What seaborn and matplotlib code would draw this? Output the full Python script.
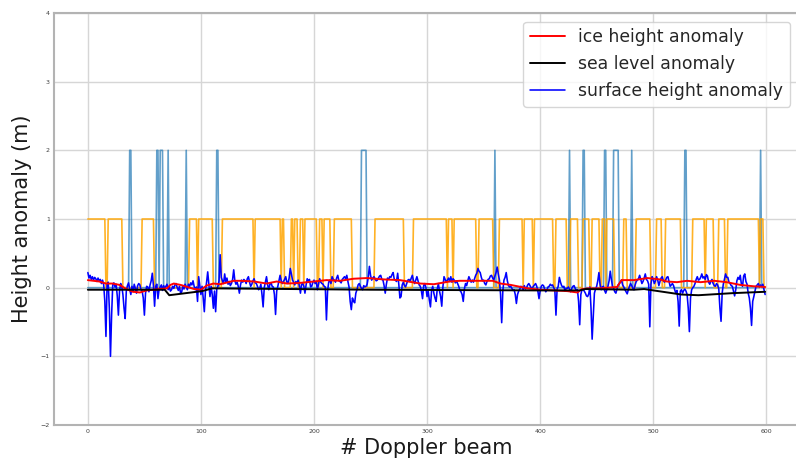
import numpy as np
import matplotlib
matplotlib.use("Agg")
import matplotlib.pyplot as plt
import seaborn as sns

# surface height anomaly, one value per Doppler beam (0..599)
surface = [
    0.22, 0.14, 0.18, 0.12, 0.16, 0.11, 0.15, 0.13, 0.09, 0.14, 0.10, 0.12, 0.06, 0.11, 0.04, -0.20, -0.71, 0.05, 0.08, -0.30,
    -1.00, -0.40, 0.04, 0.07, 0.01, 0.05, -0.12, -0.40, -0.05, 0.06, 0.02, -0.10, -0.30, -0.45, -0.05, 0.03, 0.07, -0.02, -0.10, 0.02,
    -0.06, 0.05, -0.01, -0.08, 0.03, 0.06, 0.04, -0.03, -0.05, -0.15, -0.40, -0.08, 0.02, 0.01, -0.06, 0.04, 0.10, 0.21, 0.03, -0.27,
    0.02, 0.05, -0.16, -0.02, 0.01, 0.04, -0.04, 0.03, -0.01, 0.02, 0.05, -0.03, 0.01, -0.05, -0.03, 0.02, -0.01, 0.04, 0.06, 0.00,
    -0.04, 0.02, -0.08, -0.06, 0.03, -0.02, 0.05, 0.01, -0.03, 0.05, 0.02, 0.07, 0.04, 0.10, 0.02, -0.03, 0.01, -0.20, 0.16, 0.03,
    -0.10, 0.02, -0.15, -0.35, -0.05, 0.08, 0.23, 0.05, -0.13, 0.02, -0.10, -0.30, -0.05, -0.35, -0.02, 0.02, 0.10, 0.48, 0.15, 0.10,
    0.06, 0.20, 0.08, 0.14, 0.05, 0.09, 0.03, 0.06, 0.12, 0.26, 0.10, 0.05, 0.08, 0.02, -0.08, 0.04, 0.11, 0.08, 0.12, 0.10,
    0.06, 0.13, 0.16, 0.08, 0.02, 0.05, 0.10, 0.13, 0.07, 0.06, 0.02, -0.03, -0.01, 0.05, -0.10, -0.28, 0.00, 0.08, 0.16, 0.04,
    -0.03, 0.05, 0.07, 0.02, 0.01, -0.10, -0.39, -0.05, 0.02, 0.10, 0.18, 0.10, 0.06, 0.09, 0.12, 0.16, 0.08, 0.06, 0.14, 0.28,
    0.20, 0.11, 0.08, 0.04, 0.09, 0.06, 0.11, 0.03, -0.08, 0.05, 0.06, 0.02, -0.08, 0.04, 0.13, 0.09, 0.12, 0.01, 0.02, 0.08,
    0.11, 0.06, 0.09, -0.03, 0.05, 0.13, 0.08, 0.06, 0.05, 0.02, 0.01, -0.47, -0.05, 0.08, 0.11, 0.06, 0.16, 0.12, 0.11, 0.08,
    0.14, 0.18, 0.10, 0.09, 0.07, 0.12, 0.14, 0.16, 0.13, 0.18, 0.09, 0.01, -0.20, -0.32, -0.15, -0.20, -0.22, -0.08, -0.03, 0.04,
    0.06, 0.02, -0.01, -0.03, 0.03, 0.01, 0.02, 0.05, 0.15, 0.31, 0.18, 0.11, 0.14, 0.16, 0.13, 0.10, 0.11, 0.14, 0.17, 0.18,
    0.12, 0.11, 0.03, -0.08, 0.05, 0.14, 0.12, 0.16, 0.15, 0.19, 0.22, 0.12, 0.11, 0.09, 0.21, 0.05, -0.15, -0.13, 0.04, 0.08,
    0.03, 0.01, 0.06, 0.11, 0.12, 0.09, 0.14, 0.18, 0.10, 0.06, 0.11, 0.16, 0.10, 0.04, 0.02, -0.05, -0.16, 0.03, 0.06, 0.00,
    -0.13, -0.05, -0.18, -0.28, -0.04, 0.02, -0.08, -0.15, -0.20, -0.02, 0.06, -0.05, -0.13, -0.27, 0.01, 0.16, 0.12, 0.08, 0.11, 0.14,
    0.09, 0.16, 0.08, 0.13, 0.11, 0.07, 0.10, 0.06, 0.02, -0.04, -0.06, -0.10, -0.20, -0.02, 0.06, 0.03, 0.10, 0.16, 0.12, 0.08,
    0.11, 0.08, 0.13, 0.18, 0.21, 0.28, 0.24, 0.22, 0.15, 0.10, 0.11, 0.06, 0.04, 0.09, 0.12, 0.13, 0.17, 0.18, 0.14, 0.11,
    0.17, 0.22, 0.30, 0.20, 0.11, -0.10, -0.51, -0.05, 0.11, 0.15, 0.22, 0.10, 0.03, 0.01, 0.02, -0.01, -0.04, -0.03, -0.10, -0.23,
    -0.10, -0.05, -0.02, 0.02, 0.01, -0.03, 0.03, -0.02, 0.00, 0.04, 0.06, 0.03, 0.00, -0.01, 0.02, 0.04, 0.06, 0.02, -0.05, -0.16,
    -0.05, 0.02, 0.04, 0.03, -0.02, -0.06, -0.03, 0.01, 0.02, 0.05, 0.03, 0.04, 0.00, -0.03, -0.40, -0.02, 0.02, 0.15, 0.08, 0.03,
    0.01, 0.02, -0.05, -0.01, -0.01, 0.01, -0.02, -0.06, -0.01, 0.02, 0.03, -0.01, -0.04, -0.03, -0.20, -0.54, -0.10, -0.03, -0.02, -0.05,
    -0.08, -0.12, -0.13, -0.09, 0.01, -0.30, -0.75, -0.40, -0.08, -0.02, 0.02, 0.10, 0.22, 0.05, -0.03, 0.01, 0.02, -0.04, -0.08, -0.03,
    0.02, 0.10, 0.24, 0.12, 0.02, -0.01, -0.06, -0.08, -0.02, 0.04, 0.06, 0.08, 0.11, 0.04, 0.01, -0.03, -0.06, -0.09, -0.03, 0.02,
    0.06, 0.03, -0.01, -0.03, 0.04, 0.09, 0.11, 0.13, 0.18, 0.12, 0.06, 0.09, 0.14, 0.20, 0.12, 0.10, 0.05, -0.57, 0.05, 0.16,
    0.12, 0.06, 0.10, 0.16, 0.11, 0.03, 0.09, 0.14, 0.16, 0.10, 0.08, 0.11, 0.15, 0.16, 0.09, 0.02, 0.04, 0.06, 0.03, -0.03,
    -0.08, -0.04, -0.20, -0.56, -0.05, -0.03, -0.08, -0.04, -0.02, -0.05, -0.10, -0.30, -0.64, -0.15, -0.03, 0.00, 0.02, 0.06, 0.12, 0.16,
    0.11, 0.12, 0.15, 0.20, 0.14, 0.16, 0.12, 0.19, 0.17, 0.08, 0.05, 0.09, 0.12, 0.06, 0.03, 0.02, 0.06, 0.04, -0.02, -0.30,
    -0.49, -0.08, 0.05, 0.12, 0.20, 0.15, 0.15, 0.08, 0.06, 0.03, 0.02, -0.05, -0.12, -0.03, 0.10, 0.15, 0.12, 0.18, 0.05, 0.02,
    0.17, 0.20, 0.09, 0.05, -0.08, -0.15, -0.30, -0.55, -0.20, -0.13, -0.05, 0.02, 0.04, 0.06, 0.01, 0.04, 0.02, 0.05, -0.03, -0.10,
]

# ice height anomaly (beam, value)
ice_x = [0, 10, 16, 22, 28, 34, 40, 46, 52, 58, 64, 70, 73, 76, 82, 88, 94, 100, 105, 111,
         117, 123, 129, 135, 147, 158, 167, 176, 188, 200, 211, 223, 235, 247, 262, 276, 294, 306, 320, 329,
         358, 365, 374, 389, 400, 412, 424, 433, 437, 442, 453, 468, 472, 483, 495, 506, 512, 521, 530, 542,
         554, 565, 577, 589, 599]
ice_y = [0.11, 0.09, 0.06, 0.06, 0.04, -0.02, -0.06, -0.07, -0.04, -0.03, -0.02, -0.01, 0.04, 0.06, 0.04, 0.01, -0.02, -0.03, 0.03, 0.06,
         0.05, 0.075, 0.10, 0.10, 0.09, 0.06, 0.09, 0.06, 0.07, 0.09, 0.11, 0.10, 0.13, 0.14, 0.12, 0.11, 0.06, 0.05, 0.09, 0.10,
         0.10, 0.06, 0.04, -0.01, -0.03, -0.04, -0.05, -0.07, -0.02, -0.01, -0.01, 0.01, 0.11, 0.11, 0.14, 0.12, 0.09, 0.08, 0.10, 0.08,
         0.10, 0.08, 0.04, 0.02, 0.01]

# sea level anomaly (beam, value)
sea_x = [0, 68, 72, 101, 110, 250, 400, 435, 440, 483, 492, 525, 540, 570, 599]
sea_y = [-0.03, -0.03, -0.11, -0.05, -0.01, -0.03, -0.04, -0.04, -0.02, -0.03, -0.02, -0.10, -0.11, -0.08, -0.06]

# classification flags: beam runs flagged as ice (value 1) and as lead (value 2)
ice_flag_runs = [(0, 15), (18, 30), (48, 58), (90, 96), (98, 110), (119, 146), (148, 170), (172, 173),
                 (180, 181), (183, 185), (188, 190), (192, 202), (205, 207), (209, 214), (218, 233),
                 (254, 279), (288, 317), (319, 322), (324, 343), (346, 358), (364, 384), (386, 393),
                 (395, 411), (414, 423), (427, 433), (438, 443), (446, 452), (455, 457), (459, 465),
                 (474, 476), (485, 497), (503, 507), (511, 524), (535, 545), (547, 553), (558, 563),
                 (566, 593), (595, 597)]
lead_flag_runs = [(37, 38), (61, 62), (64, 66), (71, 71), (87, 87), (114, 115), (242, 246), (360, 360),
                  (426, 426), (438, 439), (457, 458), (465, 469), (481, 481), (528, 529), (595, 595)]

sns.set_style("whitegrid")
plt.rcParams['font.family'] = ['DejaVu Sans']

n = len(surface)
beams = np.arange(n)
ice_flag = np.zeros(n)
for a, b in ice_flag_runs:
    ice_flag[a:b + 1] = 1
lead_flag = np.zeros(n)
for a, b in lead_flag_runs:
    lead_flag[a:b + 1] = 2

fig = plt.figure(figsize=(7.96, 4.59), dpi=100)
ax = fig.add_axes([54 / 796, 34 / 459, 745 / 796, 412 / 459])

sns.lineplot(x=beams, y=lead_flag, color='#1f77b4', alpha=0.7, lw=1.2, ax=ax)
sns.lineplot(x=beams, y=ice_flag, color='orange', alpha=0.85, lw=1.2, ax=ax)
sns.lineplot(x=beams, y=surface, color='blue', lw=1.15, ax=ax, label='surface height anomaly')
sns.lineplot(x=ice_x, y=ice_y, color='red', lw=1.4, ax=ax, label='ice height anomaly')
sns.lineplot(x=sea_x, y=sea_y, color='black', lw=1.4, ax=ax, label='sea level anomaly')

ax.set_xlim(-29.95, 628.95)
ax.set_ylim(-2, 4)
ax.set_xticks([0, 100, 200, 300, 400, 500, 600])
ax.set_yticks([-2, -1, 0, 1, 2, 3, 4])
ax.grid(True, color='#d6d6d6', lw=1.0)
for s in ax.spines.values():
    s.set_color('#b3b3b3')
    s.set_linewidth(1.5)
ax.tick_params(axis='both', labelsize=4.5, colors='.25', length=0, pad=3)
ax.set_xlabel('# Doppler beam', fontsize=15, color='.1', labelpad=3)
ax.set_ylabel('Height anomaly (m)', fontsize=15, color='.1', labelpad=6)

handles, labels = ax.get_legend_handles_labels()
order = ['ice height anomaly', 'sea level anomaly', 'surface height anomaly']
hmap = dict(zip(labels, handles))
ax.legend([hmap[k] for k in order], order, loc='upper right', fontsize=12.4, framealpha=0.8)

fig.savefig('out.png', dpi=100)
